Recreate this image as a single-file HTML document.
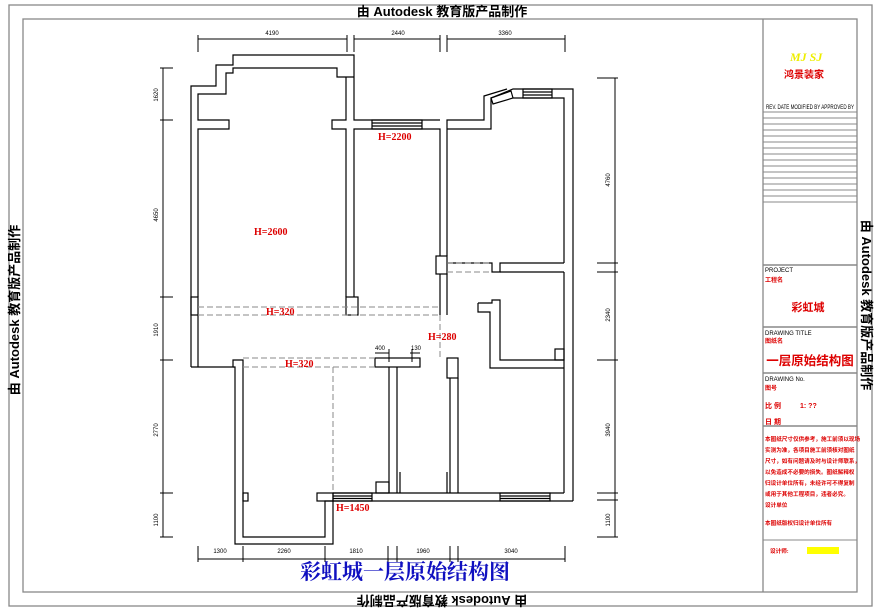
<!DOCTYPE html>
<html><head><meta charset="utf-8"><style>
html,body{margin:0;padding:0;background:#fff;width:885px;height:610px;overflow:hidden}
svg{display:block}
.w{fill:none;stroke:#000;stroke-width:1.2}
.d{stroke:#000;stroke-width:1;fill:none}
.ds{stroke:#888;stroke-width:1;stroke-dasharray:6,3;fill:none}
.g{stroke:#888;stroke-width:1.3;fill:none}
.r{fill:#d00;font-family:"Liberation Serif",serif;font-weight:bold;font-size:10px}
.s{font-family:"Liberation Sans",sans-serif;font-size:6px;fill:#000}
.k{font-family:"Liberation Sans","Noto Sans CJK SC",sans-serif;font-weight:bold;font-size:13px;fill:#000}
.t{font-family:"Liberation Sans","Noto Sans CJK SC",sans-serif;fill:#d00;font-weight:bold}
</style></head><body>
<svg width="885" height="610" viewBox="0 0 885 610" xmlns="http://www.w3.org/2000/svg">
<rect x="9" y="5" width="863" height="601" class="g"/>
<rect x="23" y="19" width="834" height="573" class="g"/>
<line x1="763" y1="19" x2="763" y2="592" class="g"/>
<text x="442" y="16" text-anchor="middle" class="k">由 Autodesk 教育版产品制作</text>
<text x="442" y="604" text-anchor="middle" class="k" transform="rotate(180 442 600)">由 Autodesk 教育版产品制作</text>
<text transform="translate(19 310) rotate(-90)" text-anchor="middle" class="k">由 Autodesk 教育版产品制作</text>
<text transform="translate(862 305) rotate(90)" text-anchor="middle" class="k">由 Autodesk 教育版产品制作</text>

<text x="790" y="61" font-family="Liberation Serif" font-style="italic" font-weight="bold" font-size="12" fill="#ee0">MJ  SJ</text>
<text x="804" y="78" text-anchor="middle" class="t" font-size="10">鸿景装家</text>
<text x="766" y="109" class="s" font-size="5" fill="#444" textLength="88" lengthAdjust="spacingAndGlyphs">REV. DATE   MODIFIED BY APPROVED BY</text>
<g stroke="#888" stroke-width="1">
<line x1="763" y1="112" x2="857" y2="112"/><line x1="763" y1="118" x2="857" y2="118"/><line x1="763" y1="124" x2="857" y2="124"/><line x1="763" y1="130" x2="857" y2="130"/><line x1="763" y1="136" x2="857" y2="136"/><line x1="763" y1="142" x2="857" y2="142"/><line x1="763" y1="148" x2="857" y2="148"/><line x1="763" y1="154" x2="857" y2="154"/><line x1="763" y1="160" x2="857" y2="160"/><line x1="763" y1="166" x2="857" y2="166"/><line x1="763" y1="172" x2="857" y2="172"/><line x1="763" y1="178" x2="857" y2="178"/><line x1="763" y1="184" x2="857" y2="184"/><line x1="763" y1="190" x2="857" y2="190"/><line x1="763" y1="196" x2="857" y2="196"/><line x1="763" y1="202" x2="857" y2="202"/>
<line x1="763" y1="265" x2="857" y2="265" stroke-width="1.5"/>
<line x1="763" y1="327" x2="857" y2="327" stroke-width="1.5"/>
<line x1="763" y1="373" x2="857" y2="373" stroke-width="1.5"/>
<line x1="763" y1="426" x2="857" y2="426" stroke-width="1.5"/>
<line x1="763" y1="540" x2="857" y2="540" stroke-width="1"/>
</g>
<text x="765" y="272" class="s" font-size="5.5">PROJECT</text>
<text x="765" y="282" class="t" font-size="6">工程名</text>
<text x="808" y="311" text-anchor="middle" class="t" font-size="11">彩虹城</text>
<text x="765" y="335" class="s" font-size="5.5">DRAWING TITLE</text>
<text x="765" y="343" class="t" font-size="6">图纸名</text>
<text x="810" y="365" text-anchor="middle" class="t" font-size="12.5">一层原始结构图</text>
<text x="765" y="381" class="s" font-size="5.5">DRAWING No.</text>
<text x="765" y="390" class="t" font-size="6">图号</text>
<text x="765" y="408" class="t" font-size="7">比 例</text>
<text x="800" y="408" class="t" font-size="7">1: ??</text>
<text x="765" y="424" class="t" font-size="7">日 期</text>
<g class="t" font-size="5.6">
<text x="765" y="441">本图纸尺寸仅供参考，施工前须以现场</text>
<text x="765" y="452">实测为准，各项目施工前须核对图纸</text>
<text x="765" y="463">尺寸，如有问题请及时与设计师联系，</text>
<text x="765" y="474">以免造成不必要的损失。图纸解释权</text>
<text x="765" y="485">归设计单位所有，未经许可不得复制</text>
<text x="765" y="496">或用于其他工程项目，违者必究。</text>
<text x="765" y="507">设计单位</text>
<text x="765" y="525">本图纸版权归设计单位所有</text>
<text x="770" y="553">设计师:</text>
</g>
<rect x="807" y="547" width="32" height="7" fill="#ff0"/>

<g class="w">
<polyline points="191,367 191,86 216,86 216,65 233,65 233,55 354,55 354,120 440,120"/>
<polyline points="198,297 198,129 229,129 229,120 198,120 198,94 226,94 226,73 233,73 233,68 337,68 337,77 354,77"/>
<polyline points="346,77 346,120 332,120 332,129 346,129 346,297"/>
<polyline points="354,297 354,129 440,129 440,256"/>
<polyline points="447,129 491,129 491,98 513,89 573,89 573,501"/>
<polyline points="447,256 447,129 447,120 484,120 484,96 507,89"/>
<polyline points="513,98 564,98 564,263"/>
<polyline points="564,272 564,493"/>
<rect x="436" y="256" width="11" height="18"/>
<polyline points="447,263 492,263 492,272 500,272 500,263 564,263"/>
<line x1="500" y1="272" x2="564" y2="272"/>
<rect x="372" y="120" width="50" height="9"/>
<line x1="372" y1="123" x2="422" y2="123"/><line x1="372" y1="126" x2="422" y2="126"/>
<rect x="523" y="89" width="29" height="9"/>
<line x1="523" y1="92" x2="552" y2="92"/><line x1="523" y1="95" x2="552" y2="95"/>
<polygon points="491,98 511,91 513,98 493,104"/>
<rect x="191" y="297" width="7" height="18"/>
<rect x="346" y="297" width="12" height="18"/>
<line x1="440" y1="274" x2="440" y2="315"/>
<line x1="447" y1="274" x2="447" y2="315"/>
<polyline points="478,303 492,303 492,300 500,300 500,360 564,360"/>
<polyline points="478,303 478,312 490,312 490,368 564,368"/>
<rect x="555" y="349" width="9" height="11"/>
<polyline points="191,367 233,367 233,360 243,360 243,537 325,537 325,501 333,501"/>
<polyline points="198,315 198,367"/>
<polyline points="233,367 235,367 235,544 333,544 333,501"/>
<rect x="317" y="493" width="16" height="8"/>
<rect x="243" y="493" width="5" height="8"/>
<rect x="375" y="358" width="45" height="9"/>
<polyline points="389,367 389,493"/>
<polyline points="397,367 397,493"/>
<rect x="447" y="358" width="11" height="20"/>
<line x1="450" y1="378" x2="450" y2="493"/>
<line x1="458" y1="378" x2="458" y2="493"/>
<polyline points="333,493 564,493"/>
<polyline points="333,501 573,501"/>
<rect x="376" y="482" width="13" height="11"/>
<line x1="400" y1="472" x2="400" y2="493"/><line x1="447" y1="472" x2="447" y2="493"/>
<rect x="333" y="493" width="39" height="8"/>
<line x1="333" y1="496" x2="372" y2="496"/><line x1="333" y1="498.5" x2="372" y2="498.5"/>
<rect x="500" y="493" width="50" height="8"/>
<line x1="500" y1="496" x2="550" y2="496"/><line x1="500" y1="498.5" x2="550" y2="498.5"/>
</g>
<line x1="198" y1="307" x2="440" y2="307" class="ds"/>
<line x1="198" y1="315" x2="440" y2="315" class="ds"/>
<line x1="243" y1="358" x2="375" y2="358" class="ds"/>
<line x1="243" y1="367" x2="375" y2="367" class="ds"/>
<line x1="333" y1="367" x2="333" y2="493" class="ds"/>
<line x1="440" y1="315" x2="440" y2="358" class="ds"/>
<line x1="447" y1="263" x2="492" y2="263" class="ds"/>
<line x1="447" y1="272" x2="492" y2="272" class="ds"/>

<g class="d">
<line x1="198" y1="39" x2="347" y2="39"/><line x1="354" y1="39" x2="440" y2="39"/><line x1="447" y1="39" x2="565" y2="39"/>
<line x1="198" y1="35" x2="198" y2="52"/><line x1="347" y1="35" x2="347" y2="52"/><line x1="354" y1="35" x2="354" y2="52"/><line x1="440" y1="35" x2="440" y2="52"/><line x1="447" y1="35" x2="447" y2="52"/><line x1="565" y1="35" x2="565" y2="52"/>
<line x1="163" y1="68" x2="163" y2="537"/>
<line x1="160" y1="68" x2="173" y2="68"/><line x1="160" y1="120" x2="173" y2="120"/><line x1="160" y1="297" x2="173" y2="297"/><line x1="160" y1="360" x2="173" y2="360"/><line x1="160" y1="493" x2="173" y2="493"/><line x1="160" y1="537" x2="173" y2="537"/>
<line x1="615" y1="78" x2="615" y2="537"/>
<line x1="597" y1="78" x2="618" y2="78"/><line x1="597" y1="263" x2="618" y2="263"/><line x1="597" y1="272" x2="618" y2="272"/><line x1="597" y1="360" x2="618" y2="360"/><line x1="597" y1="493" x2="618" y2="493"/><line x1="597" y1="500" x2="618" y2="500"/><line x1="597" y1="537" x2="618" y2="537"/>
<line x1="198" y1="559" x2="565" y2="559"/>
<line x1="198" y1="546" x2="198" y2="562"/><line x1="243" y1="546" x2="243" y2="562"/><line x1="325" y1="546" x2="325" y2="562"/><line x1="388" y1="546" x2="388" y2="562"/><line x1="397" y1="546" x2="397" y2="562"/><line x1="450" y1="546" x2="450" y2="562"/><line x1="458" y1="546" x2="458" y2="562"/><line x1="565" y1="546" x2="565" y2="562"/>
<line x1="375" y1="353" x2="389" y2="353"/><line x1="389" y1="349" x2="389" y2="362"/>
<line x1="410" y1="353" x2="420" y2="353"/><line x1="412" y1="349" x2="412" y2="362"/>
</g>
<g class="s" text-anchor="middle">
<text x="272" y="35">4190</text><text x="398" y="35">2440</text><text x="505" y="35">3360</text>
<text x="220" y="553">1300</text><text x="284" y="553">2260</text><text x="356" y="553">1810</text><text x="423" y="553">1960</text><text x="511" y="553">3040</text>
<text x="380" y="350">400</text><text x="416" y="350">130</text>
<text transform="translate(158 95) rotate(-90)">1620</text>
<text transform="translate(158 215) rotate(-90)">4650</text>
<text transform="translate(158 330) rotate(-90)">1910</text>
<text transform="translate(158 430) rotate(-90)">2770</text>
<text transform="translate(158 520) rotate(-90)">1100</text>
<text transform="translate(610 180) rotate(-90)">4760</text>
<text transform="translate(610 315) rotate(-90)">2340</text>
<text transform="translate(610 430) rotate(-90)">3940</text>
<text transform="translate(610 520) rotate(-90)">1100</text>
</g>
<g class="r">
<text x="254" y="235">H=2600</text>
<text x="378" y="140">H=2200</text>
<text x="266" y="315">H=320</text>
<text x="285" y="367">H=320</text>
<text x="428" y="340">H=280</text>
<text x="336" y="511">H=1450</text>
</g>
<text x="405" y="579" text-anchor="middle" font-family="Liberation Serif,'Noto Serif CJK SC',serif" font-size="21" fill="#1010c0" font-weight="bold">彩虹城一层原始结构图</text>
</svg>
</body></html>
